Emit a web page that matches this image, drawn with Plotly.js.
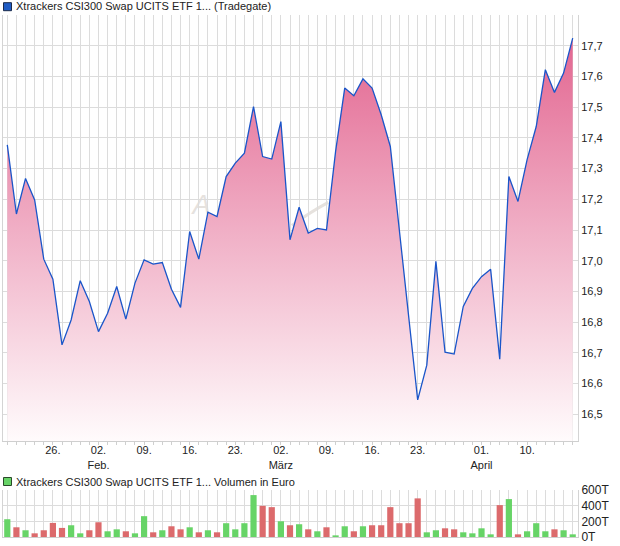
<!DOCTYPE html>
<html><head><meta charset="utf-8">
<script src="https://cdn.plot.ly/plotly-3.0.1.min.js"></script>
<style>html,body{margin:0;padding:0;background:#fff}#chart{width:620px;height:546px}</style>
</head><body><div id="chart"></div>
<script>
// ---- data ----
const dates = [
 '2026-01-19','2026-01-20','2026-01-21','2026-01-22','2026-01-23',
 '2026-01-26','2026-01-27','2026-01-28','2026-01-29','2026-01-30',
 '2026-02-02','2026-02-03','2026-02-04','2026-02-05','2026-02-06',
 '2026-02-09','2026-02-10','2026-02-11','2026-02-12','2026-02-13',
 '2026-02-16','2026-02-17','2026-02-18','2026-02-19','2026-02-20',
 '2026-02-23','2026-02-24','2026-02-25','2026-02-26','2026-02-27',
 '2026-03-02','2026-03-03','2026-03-04','2026-03-05','2026-03-06',
 '2026-03-09','2026-03-10','2026-03-11','2026-03-12','2026-03-13',
 '2026-03-16','2026-03-17','2026-03-18','2026-03-19','2026-03-20',
 '2026-03-23','2026-03-24','2026-03-25','2026-03-26','2026-03-27',
 '2026-03-30','2026-03-31','2026-04-01','2026-04-02',
 '2026-04-07','2026-04-08','2026-04-09','2026-04-10',
 '2026-04-13','2026-04-14','2026-04-15','2026-04-16','2026-04-17'
];
const prices = [
 17.377,17.152,17.268,17.198,17.005,16.940,16.726,16.807,16.935,16.867,
 16.769,16.829,16.916,16.810,16.927,17.003,16.989,16.994,16.907,16.848,
 17.095,17.005,17.158,17.144,17.274,17.318,17.350,17.502,17.339,17.331,
 17.453,17.068,17.174,17.090,17.105,17.100,17.356,17.562,17.537,17.592,
 17.562,17.475,17.372,17.100,16.830,16.547,16.660,16.998,16.702,16.696,
 16.851,16.910,16.948,16.972,16.679,17.274,17.193,17.329,17.437,17.622,
 17.548,17.611,17.725
];
// volume in thousand euro (T)
const volumes = [
 227,124,86,47,86,180,116,150,47,86,
 188,73,98,73,47,266,60,86,137,98,
 124,60,86,60,176,98,176,535,398,381,
 201,150,163,98,73,124,21,137,73,137,
 150,150,381,176,176,493,60,86,111,98,
 60,47,111,34,407,484,34,73,176,73,
 98,86,34
];
const tickDates  = ['2026-01-26','2026-02-02','2026-02-09','2026-02-16','2026-02-23','2026-03-02','2026-03-09','2026-03-16','2026-03-23','2026-04-01','2026-04-10'];
const tickLabels = ['26.','02.<br>Feb.','09.','16.','23.','02.<br>März','09.','16.','23.','01.<br>April','10.'];
const priceTicks = [16.5,16.6,16.7,16.8,16.9,17.0,17.1,17.2,17.3,17.4,17.5,17.6,17.7];
const volTicks = [0,200,400,600];
const volTickLabels = ['0T','200T','400T','600T'];
const priceTitle = 'Xtrackers CSI300 Swap UCITS ETF 1... (Tradegate)';
const volTitle = 'Xtrackers CSI300 Swap UCITS ETF 1... Volumen in Euro';

// ---- build ----
const idx = dates.map((d,i)=>i);
const tickIdx = tickDates.map(d=>dates.indexOf(d));
const volColors = prices.map((p,i)=> (i===0 || p>=prices[i-1]) ? '#67d467' : '#dc6a6c');

const W=620,H=546,L=3,R=42,T=15,B=9;
const plotH=H-T-B, plotW=W-L-R;
const py = p => (H-B-p)/plotH;
const px = p => (p-L)/plotW;
const grid = '#dcdcdc';
const xr = [-0.47, 62.58];

const traces = [
 {x:idx, y:prices, type:'scatter', mode:'lines', xaxis:'x', yaxis:'y',
  line:{color:'#1a55c9', width:1.3},
  fill:'tozeroy',
  fillgradient:{type:'vertical', start:16.413, stop:17.8,
    colorscale:[[0,'#fffbfc'],[0.5,'#f0aec5'],[1,'#e15d8a']]},
  hoverinfo:'skip'},
 {x:idx, y:volumes, type:'bar', xaxis:'x2', yaxis:'y2',
  marker:{color:volColors, line:{width:0}}, width:0.68, hoverinfo:'skip'}
];

const minorGrid = {tickmode:'linear', tick0:0, dtick:1, showgrid:true, gridcolor:grid, gridwidth:1,
                   ticks:'outside', ticklen:3, tickcolor:'#cfcfcf'};

const layout = {
 width:W, height:H, margin:{l:L,r:R,t:T,b:B},
 paper_bgcolor:'#fff', plot_bgcolor:'#fff',
 separators:',.',
 font:{family:'"Liberation Sans", Arial, sans-serif', size:11, color:'#222'},
 showlegend:false,
 xaxis:{anchor:'y', domain:[0,1], range:xr, tickmode:'array', tickvals:tickIdx, ticktext:tickLabels,
   showgrid:true, gridcolor:grid, zeroline:false, showline:true, linecolor:'#cfcfcf',
   ticks:'', ticklabelstandoff:-1, minor:minorGrid,
   tickfont:{size:11,color:'#222'}, fixedrange:true},
 yaxis:{anchor:'x', domain:[py(441),1], range:[16.413,17.8], side:'right',
   tickmode:'array', tickvals:priceTicks, tickformat:'.1f',
   showgrid:true, gridcolor:grid, zeroline:false, showline:true, mirror:true, linecolor:'#d4d4d4',
   ticks:'', tickfont:{size:11,color:'#222'}, fixedrange:true},
 xaxis2:{anchor:'y2', domain:[0,1], range:xr, tickmode:'array', tickvals:tickIdx, showticklabels:false,
   showgrid:true, gridcolor:grid, zeroline:false, showline:true, linecolor:'#cfcfcf', ticks:'',
   minor:{tickmode:'linear', tick0:0, dtick:1, showgrid:true, gridcolor:grid}, fixedrange:true},
 yaxis2:{anchor:'x2', domain:[0,py(490)], range:[0,600], side:'right',
   tickmode:'array', tickvals:volTicks, ticktext:volTickLabels,
   showgrid:true, gridcolor:grid, zeroline:false, showline:true, mirror:true, linecolor:'#d4d4d4',
   ticks:'', tickfont:{size:12,color:'#222'}, fixedrange:true},
 shapes:[
  {type:'rect', xref:'paper', yref:'paper', x0:px(3.5), x1:px(11.5), y0:py(10.7), y1:py(2.7),
   fillcolor:'#1f5cc4', line:{color:'#1b2a4a', width:1}},
  {type:'rect', xref:'paper', yref:'paper', x0:px(3.5), x1:px(11.5), y0:py(485.5), y1:py(477.5),
   fillcolor:'#67d467', line:{color:'#2a4a2a', width:1}},
  {type:'path', xref:'x', yref:'y', layer:'below',
   path:'M 31.2 17.115 Q 33.3 17.16 35.2 17.19', line:{color:'#e6e2de', width:3}},
  {type:'rect', xref:'x', yref:'y', layer:'below', x0:20.0, x1:22.6, y0:17.14, y1:17.24,
   line:{width:0}, fillcolor:'rgba(0,0,0,0)',
   label:{text:'A', textposition:'middle center',
     font:{size:27, color:'#e6e2de', style:'italic', family:'"Liberation Sans", Arial, sans-serif'}}}
 ],
 annotations:[
  {xref:'paper', yref:'paper', x:px(13.5), y:py(6.5), xanchor:'left', yanchor:'middle', showarrow:false,
   text:priceTitle, font:{size:11,color:'#222'}},
  {xref:'paper', yref:'paper', x:px(13.5), y:py(481.5), xanchor:'left', yanchor:'middle', showarrow:false,
   text:volTitle, font:{size:11,color:'#222'}}
 ]
};

Plotly.newPlot('chart', traces, layout, {displayModeBar:false, staticPlot:true});
</script>
</body></html>
